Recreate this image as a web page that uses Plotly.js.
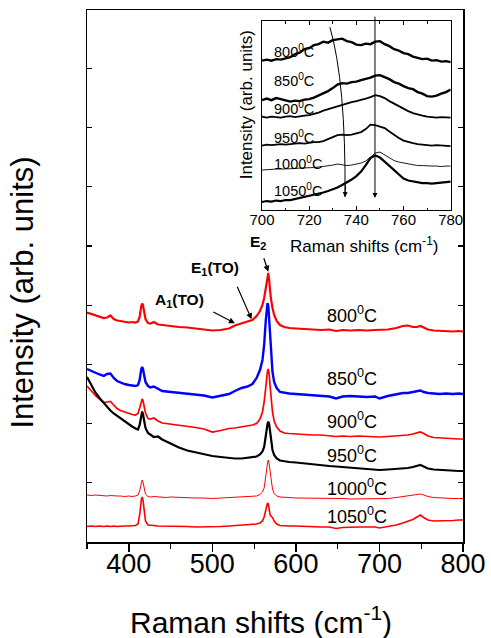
<!DOCTYPE html>
<html>
<head>
<meta charset="utf-8">
<script src="https://cdn.plot.ly/plotly-3.0.1.min.js"></script>
<style>html,body{margin:0;padding:0;background:#fff;}#chart{width:491px;height:638px;}</style>
</head>
<body>
<div id="chart"></div>
<script>
// ---------- Main spectra (Raman shift, cm^-1) ----------
const X_MAIN = [350,355,360,365,370,374,378,382,386,390,395,400,404,408,411,413,415,416,417,418,420,423,426,430,435,440,445,450,460,470,480,490,500,510,520,527,535,542,548,553,557,560,562,564,565,566,567,568,569,570,572,574,577,581,586,592,600,610,620,630,640,648,656,665,675,685,695,700,710,720,728,734,740,745,749,753,758,765,772,780,788,795,800];
const Y_800 = [229.5,228,226.5,225,224,224.5,226.5,223,221.5,221,220,219.5,220,219.5,220.5,225,236,238.5,237,231,223,219,218.5,220,217.5,217,216.5,215.5,215,214.5,213.5,212.5,211.5,212,213.5,216.5,219,220.5,222,226,231,237,244,254,261,268,269,262,252,244,234,227,221,217,215,214,213.5,213,212.5,212,212.5,211,212,211.5,212,211.5,212,212,212.5,214,216,216.5,215,215,216,214.5,212.5,211.5,211,211,210.5,211,210.5];
const Y_850 = [173,171,169,167.5,166,168,168.5,164,161,159.5,158,157,156.5,156,157,162,173,175,173,167,160,156,154.5,155.5,153,151,150.5,150,149,148.5,147.5,146.5,144.5,146,148,151,154,155.5,158,164,172,182,197,222,234,239,236,224,207,190,170,160,154,150,149,148.5,148,147.5,147,146,145.5,143.5,145.5,146,145.5,145,145.5,143.5,146,147.5,149,149,150,151,151.5,150,149,148.5,148,148.5,148,148.5,148];
const Y_900 = [156,151,146.5,143,139.5,140,140.5,137,133.5,131.5,130,128.5,127.5,127,128.5,134,141,143,141.5,137,129,123.5,123,124,121,119,118.5,118,117,116,114.5,113,110,111.5,113.5,114,115,116,117,118.5,123,130,140,155,164,171,173,168,157,145,130,121,115,111,109,108.5,108,107.5,107,107,106.5,105.5,106,105.5,106,105.5,105.5,105,105.5,106,106.5,107,108,109.5,110,108.5,106,104.5,104,103.5,103.5,103,103];
const Y_950 = [165,157,149.5,144,139,135,131.5,128.5,126,123.5,120.5,117.5,115.5,113.5,112.5,117,128,130.5,128,122,114,109,107,105,105.5,102.5,100.5,98.5,94.5,91.5,89.5,87.5,86,85,84,83.5,83.5,84,84.5,85.5,87.5,90.5,95,104,112,118,120.5,118,110,102,92,87,83.5,81.5,80.5,80,79.5,78.5,78,77,76,75.5,75,74,73.5,73,72.5,72,72.5,73,73.5,74,75,76.5,77,75.5,73.5,72.5,72,71.5,71.5,71,71];
const Y_1000 = [47,46.5,47,46.5,46.5,46,46.5,46,46,46,45.5,46,45.5,46,47,51,60,62,60,55,48,45.5,45,45.5,45,45,44.5,45,44.5,44.5,44,44,43.5,44,44.5,44.5,45,45,45.5,46,47.5,50,54,64,72,79,82,78,70,62,53,48.5,46,45,44.5,44.5,44,44,44,43.5,43.5,43.5,43.5,43,43,43,43,43,43.5,44.5,45.5,46,46.5,47.5,48,47,45.5,44.5,44,44,43.5,43.5,43.5];
const Y_1050 = [15.5,16,15.5,16,15.5,16,15.5,16,15.5,16,16,16,16.5,16.5,18,27,42,45,42,32,21,17,16.5,16.5,16,16,15.5,16,15.5,15.5,15,15,15,15.5,16,16.5,16.5,17,17.5,18,19,21,25,32,37,39,38,32,28,26,24.5,21,18,16.5,16,16,16,15.5,15.5,15,15,13.5,14.5,15,15,15,15,14,15.5,17,19,20.5,22.5,25,27,24.5,22,21,21,21.5,21.5,22,22];

// ---------- Inset spectra (700-780 cm^-1) ----------
const X_INSET = [700,702,704,706,708,710,712,714,716,718,720,722,724,726,728,730,732,734,736,738,740,742,744,746,748,750,752,754,756,758,760,762,764,766,768,770,772,774,776,778,780];
const I_800 = [149.5,150.5,149.5,151,150.5,152,153,156,157.5,161,162,165,166,168.5,167.5,170,171,171.5,169,168,165.5,165,166.5,166,168.5,169,166,164,161,159.5,157,156,153.5,152.5,151,151.5,149.5,150,148.5,149,148];
const I_850 = [110,111.5,110,112,111,109.5,108.5,109.5,109,110.5,111,112.5,114.5,116.5,119,122,125.5,127,126.5,128,128.5,130,131,132.5,134.5,135,133,131,128,126.5,124,122,121,118,116.5,114,113.5,114.5,116.5,118,120.5];
const I_900 = [93.5,92.5,93.5,93,92.5,93.5,94,93,94,94.5,95,96,97.5,99.5,101,102.5,103.5,105,106.5,108,109,110,111.5,113,115,114,112,109,106.5,104,101,99,97,95.5,94.5,93.5,93,92.5,93,92.5,92.5];
const I_950 = [64.5,65.5,65,65.5,66,65.5,66,66.5,67,66.5,67.5,68,68,69,71,73,75,75.5,75,75.5,76.5,78,81,85.5,85,83.5,82,78.5,75,72,69.5,68,67,66,65.5,65,64.5,65,64.5,64,64];
const I_1000 = [40,40.5,40.5,41,41,41,41.5,41.5,42,42,42.5,42.5,43,43.5,44,45,46,45,44.5,45,46,47,49,53,57,58,55,52,49.5,48,47,46,45,44.5,44.5,44,44,44,43.5,44,44];
const I_1050 = [8,9,8.5,9.5,9,10,10,11,12,13,14,15,16.5,17.5,19,20.5,22.5,25,27.5,30.5,34,38.5,45,52,54.5,52.5,48.5,44,39.5,35,31.5,29.5,28.5,27.5,27,27,26.5,27,27.5,28,28.5];

const TEMPS = ['800','850','900','950','1000','1050'];
const MAIN_Y = [Y_800, Y_850, Y_900, Y_950, Y_1000, Y_1050];
const MAIN_COLORS = ['#ff0000','#0000ff','#ff0000','#000000','#ff0000','#ff0000'];
const MAIN_WIDTHS = [2.2, 2.4, 1.7, 2.2, 1, 1.6];
const INSET_Y = [I_800, I_850, I_900, I_950, I_1000, I_1050];
const INSET_WIDTHS = [2.4, 2.4, 1.8, 1.8, 0.9, 2.2];

// label positions (data coords)
const MAIN_LABEL_X = 635;
const MAIN_LABEL_Y = [228, 165, 122, 88, 55, 27];
const INSET_LABEL_X = 704.2;
const INSET_LABEL_Y = [159, 130, 101.7, 73.3, 46.7, 20];

const FONT = 'Liberation Sans, Arial, Helvetica, sans-serif';

const traces = [];
MAIN_Y.forEach((y, i) => traces.push({
  x: X_MAIN, y: y, type: 'scatter', mode: 'lines', xaxis: 'x', yaxis: 'y',
  line: {color: MAIN_COLORS[i], width: MAIN_WIDTHS[i]}, showlegend: false, hoverinfo: 'skip'
}));
INSET_Y.forEach((y, i) => traces.push({
  x: X_INSET, y: y, type: 'scatter', mode: 'lines', xaxis: 'x2', yaxis: 'y2',
  line: {color: '#000000', width: INSET_WIDTHS[i]}, showlegend: false, hoverinfo: 'skip'
}));

const annotations = [];
// axis titles
annotations.push({xref:'paper', yref:'paper', x:0.464, y:-0.147, xanchor:'center', yanchor:'middle', showarrow:false,
  text:'Raman shifts (cm<sup>-1</sup>)', font:{family:FONT, size:30, color:'#000'}});
annotations.push({xref:'paper', yref:'paper', x:-0.174, y:0.468, xanchor:'center', yanchor:'middle', showarrow:false, textangle:-90,
  text:'Intensity (arb. units)', font:{family:FONT, size:31, color:'#000'}});
annotations.push({xref:'paper', yref:'paper', x:0.737, y:0.558, xanchor:'center', yanchor:'middle', showarrow:false,
  text:'Raman shifts (cm<sup>-1</sup>)', font:{family:FONT, size:17, color:'#000'}});
annotations.push({xref:'paper', yref:'paper', x:0.423, y:0.821, xanchor:'center', yanchor:'middle', showarrow:false, textangle:-90,
  text:'Intensity (arb. units)', font:{family:FONT, size:17, color:'#000'}});
// temperature labels
TEMPS.forEach((t, i) => {
  annotations.push({xref:'x', yref:'y', x:MAIN_LABEL_X, y:MAIN_LABEL_Y[i], xanchor:'left', yanchor:'middle', showarrow:false,
    text: t + '<sup>0</sup>C', font:{family:FONT, size:18, color:'#000'}});
  annotations.push({xref:'x2', yref:'y2', x:INSET_LABEL_X, y:INSET_LABEL_Y[i], xanchor:'left', yanchor:'middle', showarrow:false,
    text: t + '<sup>0</sup>C', font:{family:FONT, size:14.5, color:'#000'}});
});
// mode labels
annotations.push({xref:'x', yref:'y', x:461, y:242, showarrow:false, text:'<b>A<sub>1</sub>(TO)</b>', font:{family:FONT, size:15.5, color:'#000'}});
annotations.push({xref:'x', yref:'y', x:503, y:274, showarrow:false, text:'<b>E<sub>1</sub>(TO)</b>', font:{family:FONT, size:15.5, color:'#000'}});
annotations.push({xref:'x', yref:'y', x:554.6, y:300, showarrow:false, text:'<b>E<sub>2</sub></b>', font:{family:FONT, size:15.5, color:'#000'}});
// arrows (main)
const arrowStyle = {showarrow:true, arrowhead:2, arrowsize:1, arrowwidth:1.2, arrowcolor:'#000', text:''};
annotations.push(Object.assign({xref:'x', yref:'y', x:527, y:218.7, ax:-23, ay:-12}, arrowStyle));
annotations.push(Object.assign({xref:'x', yref:'y', x:547, y:222.7, ax:-15, ay:-34}, arrowStyle));
annotations.push(Object.assign({xref:'x', yref:'y', x:567, y:270.3, ax:-5, ay:-15}, arrowStyle));
// arrows (inset)
annotations.push(Object.assign({xref:'x2', yref:'y2', x:747.9, y:12, axref:'x2', ayref:'y2', ax:747.9, ay:195}, arrowStyle, {arrowwidth:1}));
annotations.push(Object.assign({xref:'x2', yref:'y2', x:735.2, y:13, ax:0.5, ay:-14}, arrowStyle, {arrowwidth:1}));

const shapes = [{type:'path', xref:'x2', yref:'y2', path:'M 728.8,183 Q 735.6,127 735.2,13', line:{color:'#000', width:1}, layer:'above'}];

const axisBase = {showgrid:false, zeroline:false, showline:true, linecolor:'#000', color:'#000'};

const layout = {
  width: 491, height: 638,
  margin: {l:87, r:28, t:10, b:96},
  paper_bgcolor:'#fff', plot_bgcolor:'#fff',
  font:{family:FONT, color:'#000'},
  showlegend:false,
  xaxis: Object.assign({}, axisBase, {
    domain:[0,1], anchor:'y', range:[350,800], tick0:0, dtick:100, ticks:'outside', ticklen:8, tickwidth:1.5,
    linewidth:1.5, mirror:true, tickfont:{family:FONT, size:27, color:'#000'}, ticklabelstandoff:-11,
    minor:{dtick:50, ticks:'outside', ticklen:5, tickwidth:1.2, showgrid:false}
  }),
  xaxis3: Object.assign({}, axisBase, {
    overlaying:'x', side:'top', anchor:'y', range:[350,800], tick0:0, dtick:100, ticks:'inside', ticklen:5, tickwidth:1.2,
    showline:false, showticklabels:false,
    minor:{dtick:50, ticks:'inside', ticklen:3, tickwidth:1, showgrid:false}
  }),
  yaxis: Object.assign({}, axisBase, {
    domain:[0,1], anchor:'x', range:[0,532], tick0:0, dtick:59.2, ticks:'inside', ticklen:5, tickwidth:1.2,
    linewidth:1.5, mirror:'ticks', showticklabels:false
  }),
  xaxis2: Object.assign({}, axisBase, {
    domain:[0.4654,0.9673], anchor:'y2', range:[700,780], tick0:700, dtick:20, ticks:'inside', ticklen:4, tickwidth:1,
    linewidth:1, mirror:'ticks', tickfont:{family:FONT, size:15, color:'#000'}, ticklabelstandoff:-4,
    minor:{dtick:10, ticks:'inside', ticklen:2.5, tickwidth:1, showgrid:false}
  }),
  yaxis2: Object.assign({}, axisBase, {
    domain:[0.624,0.979], anchor:'x2', range:[0,189], ticks:'', showticklabels:false, linewidth:1, mirror:true
  }),
  annotations: annotations,
  shapes: shapes
};

Plotly.newPlot('chart', traces, layout, {staticPlot:true, displayModeBar:false});
</script>
</body>
</html>
